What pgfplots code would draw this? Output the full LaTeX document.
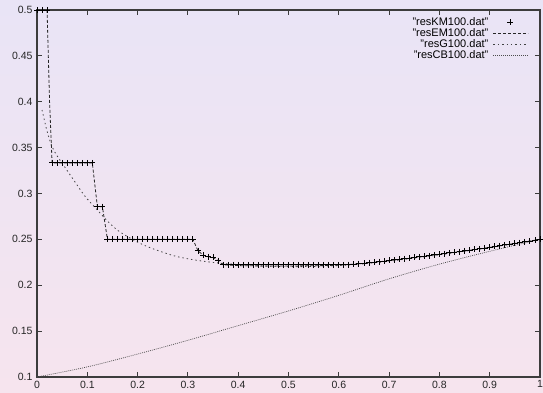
\documentclass[border=0pt]{standalone}
\usepackage{pgfplots}
\pgfplotsset{compat=1.18}
\usepackage{fontspec}
\setmainfont{Liberation Sans}

\definecolor{bgtop}{RGB}{233,228,246}
\definecolor{bgbot}{RGB}{246,228,238}
\definecolor{axisgray}{RGB}{60,60,60}

\pgfplotsset{
  lineleg/.style={legend image code/.code={\draw[##1] (0pt,0pt) -- (35pt,0pt);}},
  markleg/.style={legend image code/.code={\draw[##1] plot coordinates {(17pt,0pt)};}},
}

\begin{document}
\begin{tikzpicture}[x=1pt,y=1pt]
\useasboundingbox (0,0) rectangle (543,393);
\shade[top color=bgtop, bottom color=bgbot] (0,0) rectangle (543,393);
\begin{axis}[
  scale only axis,
  width=503pt, height=367pt,
  at={(37pt,16pt)}, anchor=south west,
  xmin=0, xmax=1, ymin=0.1, ymax=0.5,
  xtick={0,0.1,...,1.0},
  ytick={0.1,0.15,0.2,0.25,0.3,0.35,0.4,0.45,0.5},
  yticklabels={0.1,0.15,0.2,0.25,0.3,0.35,0.4,0.45,0.5},
  xticklabels={0,0.1,0.2,0.3,0.4,0.5,0.6,0.7,0.8,0.9,1},
  tick align=inside,
  major tick length=5pt,
  tick style={axisgray, line width=1pt},
  axis line style={axisgray, line width=1.2pt},
  tick label style={font=\fontsize{10.5}{12}\selectfont, text=black!85},
  /pgf/number format/assume math mode=true,
  xticklabel style={yshift=-2.5pt, inner sep=1pt},
  yticklabel style={xshift=-1pt},
  axis background/.style={fill=none},
  legend plot pos=right,
  legend cell align=right,
  legend style={draw=none, fill=none,
    at={(rel axis cs:0.984,0.988)}, anchor=north east,
    font=\fontsize{11}{12}\selectfont,
    nodes={inner sep=0.6pt, text height=7.9pt, text depth=1.9pt},
    column sep=4pt},
]

% Kaplan-Meier style estimate, one point per 0.01
\addplot[only marks, mark=+, mark size=3pt, line width=0.9pt, black, markleg]
  table {
x y
0.00 0.5
0.01 0.5
0.02 0.5
0.03 0.3333
0.04 0.3333
0.05 0.3333
0.06 0.3333
0.07 0.3333
0.08 0.3333
0.09 0.3333
0.10 0.3333
0.11 0.3333
0.12 0.2857
0.13 0.2857
0.14 0.25
0.15 0.25
0.16 0.25
0.17 0.25
0.18 0.25
0.19 0.25
0.20 0.25
0.21 0.25
0.22 0.25
0.23 0.25
0.24 0.25
0.25 0.25
0.26 0.25
0.27 0.25
0.28 0.25
0.29 0.25
0.30 0.25
0.31 0.25
0.32 0.2376
0.33 0.2330
0.34 0.2311
0.35 0.2305
0.36 0.2268
0.37 0.2222
0.38 0.2222
0.39 0.2222
0.40 0.2222
0.41 0.2222
0.42 0.2222
0.43 0.2222
0.44 0.2222
0.45 0.2222
0.46 0.2222
0.47 0.2222
0.48 0.2222
0.49 0.2222
0.50 0.2222
0.51 0.2222
0.52 0.2222
0.53 0.2222
0.54 0.2222
0.55 0.2222
0.56 0.2222
0.57 0.2222
0.58 0.2222
0.59 0.2222
0.60 0.2222
0.61 0.2222
0.62 0.2226
0.63 0.2231
0.64 0.2236
0.65 0.2241
0.66 0.2246
0.67 0.2252
0.68 0.2258
0.69 0.2264
0.70 0.2270
0.71 0.2277
0.72 0.2283
0.73 0.2290
0.74 0.2296
0.75 0.2303
0.76 0.2310
0.77 0.2317
0.78 0.2324
0.79 0.2331
0.80 0.2338
0.81 0.2345
0.82 0.2353
0.83 0.2360
0.84 0.2367
0.85 0.2375
0.86 0.2382
0.87 0.2390
0.88 0.2398
0.89 0.2406
0.90 0.2414
0.91 0.2423
0.92 0.2431
0.93 0.2440
0.94 0.2448
0.95 0.2457
0.96 0.2465
0.97 0.2474
0.98 0.2482
0.99 0.2491
1.00 0.2500
};
\addlegendentry{"resKM100.dat"}

% EM estimate
\addplot[black!85, line width=0.8pt, dash pattern=on 3pt off 2pt, lineleg]
  table {
x y
0.00 0.5
0.02 0.5
0.025 0.40
0.03 0.3333
0.11 0.3333
0.12 0.2857
0.13 0.2857
0.14 0.25
0.31 0.25
0.32 0.2376
0.33 0.2330
0.34 0.2311
0.35 0.2305
0.36 0.2268
0.37 0.2222
0.40 0.2214
0.45 0.2210
0.50 0.2210
0.55 0.2212
0.60 0.2218
0.65 0.2238
0.70 0.2268
0.75 0.2301
0.80 0.2336
0.85 0.2373
0.90 0.2412
0.95 0.2455
1.00 0.2500
};
\addlegendentry{"resEM100.dat"}

% G estimate
\addplot[black!75, line width=0.8pt, dash pattern=on 1.4pt off 3pt, smooth, lineleg]
  table {
x y
0.01 0.391
0.02 0.368
0.03 0.351
0.04 0.341
0.05 0.333
0.06 0.325
0.07 0.317
0.08 0.309
0.09 0.301
0.10 0.294
0.12 0.282
0.14 0.270
0.16 0.260
0.18 0.253
0.20 0.247
0.22 0.242
0.25 0.236
0.28 0.231
0.32 0.227
0.36 0.2243
0.40 0.2225
0.45 0.2210
0.50 0.2203
0.55 0.2205
0.60 0.2215
0.65 0.2234
0.70 0.2262
0.75 0.2296
0.80 0.2332
0.85 0.2371
0.90 0.2411
0.95 0.2455
1.00 0.2500
};
\addlegendentry{"resG100.dat"}

% CB estimate
\addplot[black!70, line width=0.7pt, dash pattern=on 0.9pt off 1.1pt, smooth, lineleg]
  table {
x y
0.00 0.100
0.10 0.111
0.20 0.125
0.30 0.140
0.40 0.156
0.50 0.172
0.60 0.189
0.70 0.207
0.80 0.223
0.90 0.237
1.00 0.250
};
\addlegendentry{"resCB100.dat"}

\end{axis}
\end{tikzpicture}
\end{document}
